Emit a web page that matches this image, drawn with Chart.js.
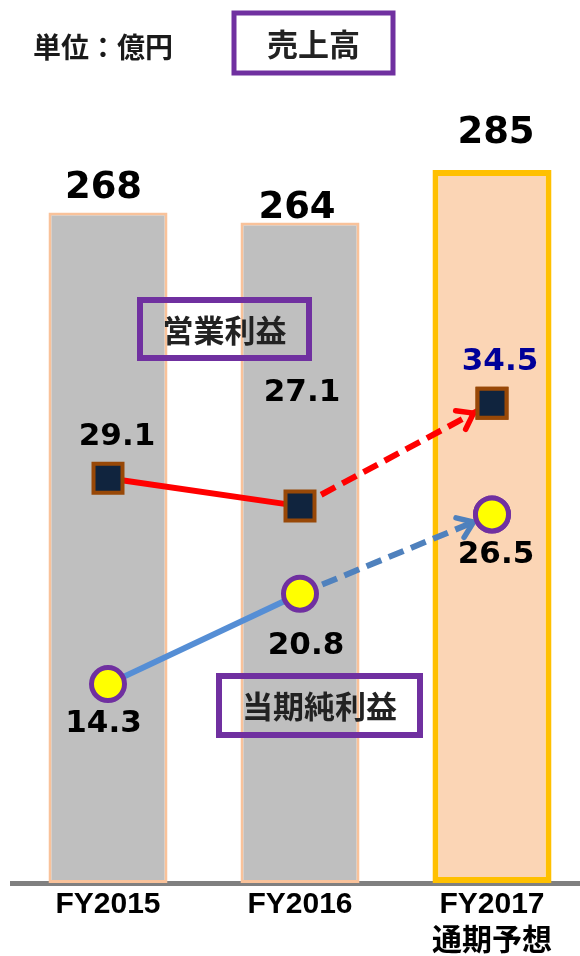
<!DOCTYPE html>
<html>
<head>
<meta charset="utf-8">
<script src="https://cdn.jsdelivr.net/npm/chart.js@4.4.1/dist/chart.umd.min.js"></script>
<style>
    html, body { margin: 0; padding: 0; background: #fff; overflow: hidden; }
    canvas { display: block; }
</style>
</head>
<body>
<!-- a little wider than the window so the forecast bar sits where it should; the extra is clipped -->
<canvas id="salesChart" width="588" height="956"></canvas>
<script>
// Data (億円)
const years = ['FY2015', 'FY2016', ['FY2017', '通期予想']];
const sales = [268, 264, 285];
const operatingProfit = [29.1, 27.1, 34.5];
const netProfit = [14.3, 20.8, 26.5];

// label nudges relative to bar top / point centre
const salesLabelOffsets = [[-4.5, -24.5], [-3, -14], [4, -36.5]];
const opLabelOffsets = [[9, -41.5], [2, -113], [8, -41]];
const netLabelOffsets = [[-4.5, 40], [6, 52], [4, 41]];

const numFont = 'bold 31px "DejaVu Sans", Verdana, sans-serif';
const jpFont = '"Noto Sans CJK JP", sans-serif';

const valueLabels = {
    id: 'valueLabels',
    afterDatasetsDraw(chart) {
        const ctx = chart.ctx;
        ctx.save();
        ctx.textAlign = 'center';
        ctx.textBaseline = 'middle';

        const bars = chart.getDatasetMeta(2).data;
        ctx.font = 'bold 37px "DejaVu Sans", Verdana, sans-serif';
        ctx.fillStyle = '#000';
        bars.forEach((bar, i) => {
            const [dx, dy] = salesLabelOffsets[i];
            ctx.fillText(String(sales[i]), bar.x + dx, bar.y + dy);
        });

        ctx.font = numFont;
        chart.getDatasetMeta(0).data.forEach((pt, i) => {
            const [dx, dy] = opLabelOffsets[i];
            ctx.fillStyle = i === 2 ? '#000099' : '#000';
            ctx.fillText(operatingProfit[i].toFixed(1), pt.x + dx, pt.y + dy);
        });
        ctx.fillStyle = '#000';
        chart.getDatasetMeta(1).data.forEach((pt, i) => {
            const [dx, dy] = netLabelOffsets[i];
            ctx.fillText(netProfit[i].toFixed(1), pt.x + dx, pt.y + dy);
        });
        ctx.restore();
    }
};

// open arrow heads at the forecast end of both profit lines
const arrowHeads = {
    id: 'arrowHeads',
    afterDatasetsDraw(chart) {
        const ctx = chart.ctx;
        const specs = [
            { meta: chart.getDatasetMeta(0), color: '#FF0000', gap: 21 },
            { meta: chart.getDatasetMeta(1), color: '#4F81BD', gap: 20 }
        ];
        ctx.save();
        specs.forEach(s => {
            const a = s.meta.data[1], b = s.meta.data[2];
            const dx = b.x - a.x, dy = b.y - a.y;
            const len = Math.hypot(dx, dy);
            const ux = dx / len, uy = dy / len;
            const tx = b.x - ux * s.gap, ty = b.y - uy * s.gap;
            const ang = Math.atan2(uy, ux);
            const head = 18, spread = Math.PI / 5;
            ctx.strokeStyle = s.color;
            ctx.lineWidth = 5.5;
            ctx.lineCap = 'round';
            ctx.lineJoin = 'miter';
            ctx.beginPath();
            ctx.moveTo(tx - head * Math.cos(ang - spread), ty - head * Math.sin(ang - spread));
            ctx.lineTo(tx, ty);
            ctx.lineTo(tx - head * Math.cos(ang + spread), ty - head * Math.sin(ang + spread));
            ctx.stroke();
        });
        ctx.restore();
        // redraw end markers on top of arrows
        [0, 1].forEach(i => {
            const pt = chart.getDatasetMeta(i).data[2];
            pt.draw(ctx, chart.chartArea);
        });
    }
};

const captions = {
    id: 'captions',
    afterDraw(chart) {
        const ctx = chart.ctx;
        ctx.save();
        ctx.textAlign = 'center';
        ctx.textBaseline = 'middle';
        ctx.fillStyle = '#1a1a1a';
        ctx.font = 'bold 28px ' + jpFont;
        ctx.fillText('単位：億円', 103, 47);

        ctx.strokeStyle = '#7030A0';
        const boxes = [
            { text: '売上高', x: 234, y: 13, w: 159, h: 60, lw: 5, size: 31 },
            { text: '営業利益', x: 140, y: 300, w: 169, h: 58, lw: 6, size: 31 },
            { text: '当期純利益', x: 219, y: 676, w: 201, h: 59, lw: 6, size: 31 }
        ];
        boxes.forEach(b => {
            ctx.lineWidth = b.lw;
            ctx.strokeRect(b.x, b.y, b.w, b.h);
            ctx.fillStyle = '#222';
            ctx.font = 'bold ' + b.size + 'px ' + jpFont;
            ctx.fillText(b.text, b.x + b.w / 2, b.y + b.h / 2 + 1);
        });
        ctx.restore();
    }
};

new Chart(document.getElementById('salesChart'), {
    type: 'bar',
    data: {
        labels: years,
        datasets: [
            {
                type: 'line',
                label: '営業利益',
                data: operatingProfit,
                yAxisID: 'y1',
                order: 0,
                borderColor: '#FF0000',
                borderWidth: 6,
                tension: 0,
                segment: {
                    borderDash: ctx => ctx.p0DataIndex === 1 ? [16, 8] : undefined
                },
                pointStyle: 'rect',
                pointRadius: 20.5,
                pointBackgroundColor: '#10243E',
                pointBorderColor: '#984807',
                pointBorderWidth: 4
            },
            {
                type: 'line',
                label: '当期純利益',
                data: netProfit,
                yAxisID: 'y1',
                order: 0,
                borderColor: '#558ED5',
                borderWidth: 6,
                tension: 0,
                segment: {
                    borderDash: ctx => ctx.p0DataIndex === 1 ? [16, 8] : undefined,
                    borderColor: ctx => ctx.p0DataIndex === 1 ? '#4F81BD' : '#558ED5'
                },
                pointStyle: 'circle',
                pointRadius: 16.5,
                pointBackgroundColor: '#FFFF00',
                pointBorderColor: '#7030A0',
                pointBorderWidth: 5
            },
            {
                type: 'bar',
                label: '売上高',
                data: sales,
                yAxisID: 'y',
                order: 1,
                backgroundColor: ['#BFBFBF', '#BFBFBF', '#FBD5B5'],
                borderColor: ['#F9C29A', '#F9C29A', '#FFC000'],
                borderWidth: [3, 3, 6],
                borderSkipped: false,
                barPercentage: 0.62,
                categoryPercentage: 1
            }
        ]
    },
    options: {
        responsive: false,
        animation: false,
        events: [],
        layout: { autoPadding: false, padding: { top: 100, left: 12, right: 0, bottom: 0 } },
        plugins: {
            legend: { display: false },
            tooltip: { enabled: false }
        },
        scales: {
            x: {
                offset: true,
                grid: { display: false, drawTicks: false },
                border: { display: true, color: '#808080', width: 5 },
                ticks: {
                    color: '#000',
                    padding: 3,
                    font: { family: '"Liberation Sans", Arial, "Noto Sans CJK JP", sans-serif', size: 30, weight: 'bold', lineHeight: 1.23 }
                },
                afterFit(scale) {
                    // bars run edge to edge, axis strip fixed so the baseline sits at 883
                    scale.paddingLeft = 0;
                    scale.paddingRight = 0;
                    scale.height = 73;
                }
            },
            y: {
                display: false,
                min: 0,
                max: 313
            },
            y1: {
                display: false,
                position: 'right',
                min: 0,
                max: 56.3
            }
        }
    },
    plugins: [valueLabels, arrowHeads, captions]
});
</script>
</body>
</html>
